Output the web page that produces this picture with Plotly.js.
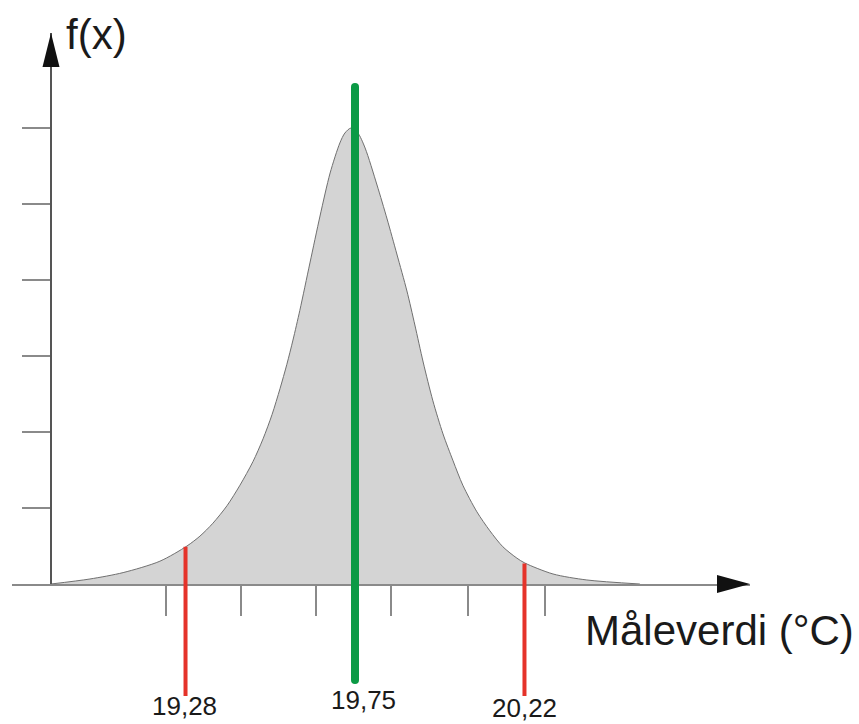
<!DOCTYPE html>
<html>
<head>
<meta charset="utf-8">
<script src="https://cdn.plot.ly/plotly-3.0.1.min.js"></script>
<style>html,body{margin:0;padding:0;background:#fff;}</style>
</head>
<body>
<div id="chart" style="width:859px;height:724px;"></div>
<script>
// ---- data ----
const curveX = [18.907, 19.015, 19.107, 19.209, 19.284, 19.320, 19.356, 19.395, 19.431, 19.467,
                19.495, 19.520, 19.542, 19.561, 19.578, 19.597, 19.625, 19.653, 19.681, 19.708,
                19.722, 19.739, 19.758, 19.778, 19.811, 19.839, 19.866, 19.894, 19.916, 19.939,
                19.966, 19.994, 20.022, 20.049, 20.088, 20.124, 20.160, 20.199, 20.221, 20.299,
                20.393, 20.540];
const curveY = [0.0, 0.066, 0.150, 0.300, 0.500, 0.630, 0.800, 1.030, 1.300, 1.610,
                1.910, 2.230, 2.570, 2.890, 3.210, 3.600, 4.224, 4.842, 5.408, 5.803,
                5.934, 6.0, 5.934, 5.737, 5.250, 4.803, 4.342, 3.855, 3.408, 2.921,
                2.410, 1.975, 1.620, 1.300, 0.950, 0.700, 0.490, 0.340, 0.276, 0.132,
                0.053, 0.0];
const meanValue = 19.75;
const meanLabel = '19,75';
const limitValues = [19.28, 20.22];
const limitLabels = ['19,28', '20,22'];
const limitCurveHeights = [0.49, 0.27];
const xTickVals = [19.226, 19.434, 19.642, 19.850, 20.063, 20.277];
const yTickVals = [1, 2, 3, 4, 5, 6];
const yTitle = 'f(x)';
const xTitle = 'Måleverdi (°C)';

// ---- layout constants (geometry / style) ----
const FONT = 'Liberation Sans, Arial, Helvetica, sans-serif';
const X_RANGE = [18.7988, 20.8454];
const Y_RANGE = [0, 7.25];
const Y2_RANGE = [-1.8421, 7.25];
const Y_DOMAIN_BOTTOM = 0.2026;
const Y_AXIS_POS = 0.05285;
const RED_BOTTOM = -1.474;
const GREEN_TOP = 6.54;
const GREEN_BOTTOM = -1.263;
const labelY = { '19,28': -1.61, '19,75': -1.52, '20,22': -1.63 };
const labelShift = { '19,28': -1, '19,75': 8, '20,22': 0 };

const traces = [];
traces.push({
  x: curveX, y: curveY, xaxis: 'x', yaxis: 'y',
  type: 'scatter', mode: 'lines', fill: 'tozeroy', fillcolor: '#d4d4d4',
  line: { color: '#707070', width: 1, shape: 'spline', smoothing: 0.8 },
  hoverinfo: 'skip'
});
limitValues.forEach((v, i) => {
  traces.push({
    x: [v, v], y: [limitCurveHeights[i], RED_BOTTOM], xaxis: 'x', yaxis: 'y2',
    type: 'scatter', mode: 'lines',
    line: { color: '#e5332a', width: 4 }, hoverinfo: 'skip'
  });
});
traces.push({
  x: [meanValue, meanValue], y: [GREEN_TOP, GREEN_BOTTOM], xaxis: 'x', yaxis: 'y2',
  type: 'scatter', mode: 'lines+markers',
  line: { color: '#0b9a45', width: 8 },
  marker: { color: '#0b9a45', size: 8 }, hoverinfo: 'skip'
});

const annotations = [];
annotations.push({
  xref: 'paper', yref: 'paper', x: 0.0705, y: 0.9985, xanchor: 'left', yanchor: 'middle',
  text: yTitle, showarrow: false, font: { family: FONT, size: 42, color: '#1a1a1a' }
});
annotations.push({
  xref: 'paper', yref: 'paper', x: 0.9593, y: 0.136, xanchor: 'center', yanchor: 'middle',
  text: xTitle, showarrow: false, font: { family: FONT, size: 42, color: '#1a1a1a' }
});
const allLabels = [[limitValues[0], limitLabels[0]], [meanValue, meanLabel], [limitValues[1], limitLabels[1]]];
allLabels.forEach(([v, t]) => {
  annotations.push({
    xref: 'x', yref: 'y2', x: v, y: labelY[t], xanchor: 'center', yanchor: 'middle',
    xshift: labelShift[t], text: t, showarrow: false,
    font: { family: FONT, size: 26, color: '#1a1a1a' }
  });
});

const layout = {
  width: 859, height: 724,
  margin: { l: 12, r: 109, t: 33, b: 0, pad: 0 },
  paper_bgcolor: '#ffffff', plot_bgcolor: 'rgba(0,0,0,0)',
  showlegend: false,
  xaxis: {
    domain: [0, 1], range: X_RANGE, anchor: 'y',
    showline: true, linecolor: '#8a8a8a', linewidth: 2,
    ticks: 'outside', ticklen: 30, tickwidth: 1.5, tickcolor: '#8a8a8a',
    tickmode: 'array', tickvals: xTickVals, showticklabels: false,
    showgrid: false, zeroline: false, fixedrange: true
  },
  yaxis: {
    domain: [Y_DOMAIN_BOTTOM, 1], range: Y_RANGE, anchor: 'free', position: Y_AXIS_POS,
    showline: true, linecolor: '#555555', linewidth: 2,
    ticks: 'outside', ticklen: 28, tickwidth: 1.5, tickcolor: '#8a8a8a',
    tickmode: 'array', tickvals: yTickVals, showticklabels: false,
    showgrid: false, zeroline: false, fixedrange: true
  },
  yaxis2: {
    domain: [0, 1], range: Y2_RANGE, anchor: 'x', visible: false, fixedrange: true
  },
  shapes: [
    { type: 'path', xref: 'paper', yref: 'paper', xsizemode: 'pixel', ysizemode: 'pixel',
      xanchor: Y_AXIS_POS, yanchor: 1, path: 'M0,0 L-8.5,-34 L8.5,-34 Z',
      fillcolor: '#111111', line: { width: 0 } },
    { type: 'path', xref: 'paper', yref: 'paper', xsizemode: 'pixel', ysizemode: 'pixel',
      xanchor: 1, yanchor: Y_DOMAIN_BOTTOM, path: 'M0,0 L-33,9 L-33,-9 Z',
      fillcolor: '#111111', line: { width: 0 } }
  ],
  annotations: annotations
};

Plotly.newPlot('chart', traces, layout, { displayModeBar: false, staticPlot: true });
</script>
</body>
</html>
